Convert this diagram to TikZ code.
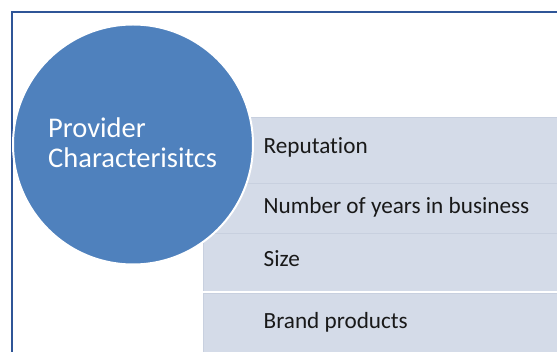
\documentclass[tikz,border=0pt]{standalone}
\usepackage{fontspec}
\setmainfont{Carlito}[Ligatures=NoCommon]
\definecolor{circleblue}{HTML}{4F81BD}
\definecolor{rowfill}{HTML}{D4DBE8}
\definecolor{rowline}{HTML}{C8D0DF}
\definecolor{framecol}{HTML}{2F5597}
\tikzset{
  row/.style={fill=rowfill, draw=rowline, line width=0.6pt},
  item/.style={anchor=west, inner sep=0pt, font=\fontsize{23.2}{26}\selectfont, text=black!90},
  hub/.style={circle, fill=circleblue, draw=white, line width=2pt, minimum size=240pt, inner sep=0pt}
}
\begin{document}
\begin{tikzpicture}[x=1pt, y=-1pt]
			%%%%% START %%%%%
			\useasboundingbox (0, 0) rectangle (557, 352);
			\fill[white] (0, 0) rectangle (557, 352);
			
			\draw[framecol, line width=1.5pt] (12, 360) -- (12, 12) -- (565, 12);
			
			\draw[row] (203, 117) rectangle (565, 183);
			\draw[row] (203, 183) rectangle (565, 233);
			\draw[row] (203, 233) rectangle (565, 291);
			\fill[white] (203, 291) rectangle (565, 293);
			\draw[row] (203, 293) rectangle (565, 365);
			
			\node[item] (reputation) at (263.5, 147) {Reputation};
			\node[item] (years) at (263.5, 207) {Number of years in business};
			\node[item] (size) at (263.5, 259) {Size};
			\node[item] (brand) at (263.5, 322) {Brand products};
			
			\node[hub] (provider) at (133, 144.5) {};
			\node[anchor=west, align=left, inner sep=0pt, text=white,
			      font=\fontsize{28.5}{30}\selectfont] (providerlabel) at (48, 143) {Provider\\Characterisitcs};
			%%%%% END %%%%%
\end{tikzpicture}
\end{document}
